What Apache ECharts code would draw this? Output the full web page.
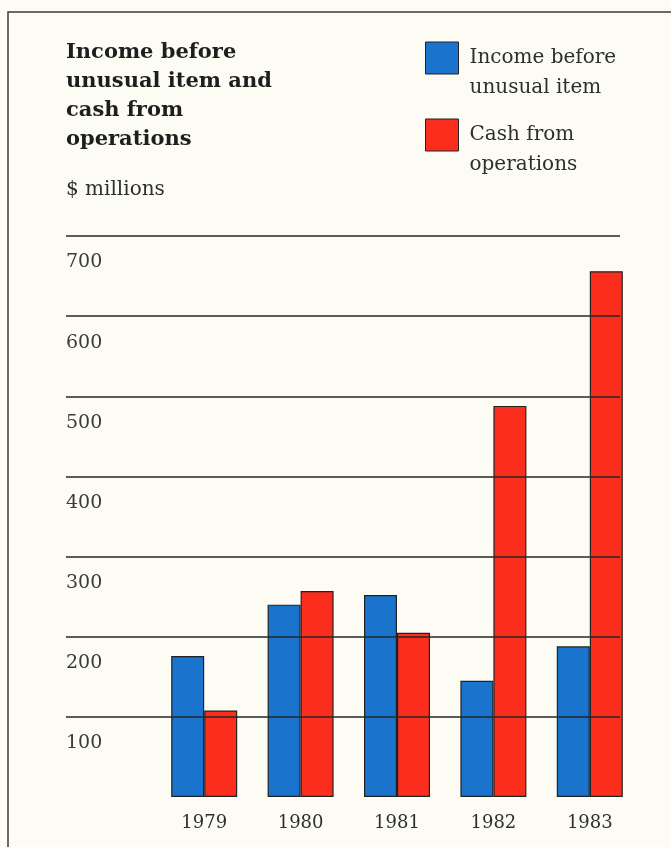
<!DOCTYPE html>
<html>
<head>
<meta charset="utf-8">
<style>
  html, body { margin: 0; padding: 0; background: #fdfcf4; }
  #chart { width: 671px; height: 847px; }
</style>
<script src="https://cdn.jsdelivr.net/npm/echarts@6/dist/echarts.min.js"></script>
</head>
<body>
<div id="chart"></div>
<script>
// Annual figures, $ millions
const years = ['1979', '1980', '1981', '1982', '1983'];
const incomeBeforeUnusual = [176, 240, 252, 145, 188];
const cashFromOperations = [108, 257, 205, 488, 656];
const yTicks = [100, 200, 300, 400, 500, 600, 700];

const seriesNames = ['Income before unusual item', 'Cash from operations'];
// leading blank line keeps the first text line level with the swatch
const legendText = {
  'Income before unusual item': '\nIncome before\nunusual item',
  'Cash from operations': '\nCash from\noperations'
};

const serif = '"DejaVu Serif", "Liberation Serif", serif';
const ink = '#2e2e2e';
const blue = '#1a73cc';
const red = '#fb2e1e';

const chart = echarts.init(document.getElementById('chart'), null, { renderer: 'canvas' });

const legendBase = {
  orient: 'vertical',
  left: 420,
  itemWidth: 33,
  itemHeight: 32,
  icon: 'rect',
  selectedMode: false,
  formatter: name => legendText[name],
  itemStyle: { borderColor: '#222', borderWidth: 1 },
  textStyle: {
    fontFamily: serif, fontSize: 20, color: ink,
    lineHeight: 30, padding: [6, 0, 0, 6]
  }
};

chart.setOption({
  backgroundColor: '#fdfcf4',
  animation: false,
  title: [{
    text: 'Income before\nunusual item and\ncash from\noperations',
    left: 61, top: 33,
    textStyle: { fontFamily: serif, fontSize: 21, fontWeight: 'bold', color: '#1e1e1e', lineHeight: 29 }
  }, {
    text: '$ millions',
    left: 61, top: 175,
    textStyle: { fontFamily: serif, fontSize: 20, fontWeight: 'normal', color: ink }
  }],
  legend: [
    Object.assign({}, legendBase, { top: 5, data: [seriesNames[0]] }),
    Object.assign({}, legendBase, { top: 82, data: [seriesNames[1]] })
  ],
  grid: [
    // bars
    { left: 156, right: 33, top: 236, bottom: 50 },
    // horizontal rules and their labels
    { left: 66, right: 51, top: 236, bottom: 50 }
  ],
  xAxis: [{
    gridIndex: 0,
    type: 'category',
    data: years,
    axisLine: { show: false },
    axisTick: { show: false },
    axisLabel: { fontFamily: serif, fontSize: 18, color: ink, margin: 17 }
  }, {
    gridIndex: 1,
    type: 'value', min: 0, max: 1, show: false
  }],
  yAxis: [{
    gridIndex: 0,
    type: 'value', min: 0, max: 700, interval: 100,
    show: false
  }, {
    gridIndex: 1,
    type: 'value', min: 0, max: 700, interval: 100,
    z: 5,
    axisLine: { show: false },
    axisTick: { show: false },
    splitLine: { show: true, showMinLine: false, lineStyle: { color: '#262626', width: 1.5 } },
    axisLabel: {
      showMinLabel: false,
      align: 'left', verticalAlign: 'top', margin: 0,
      padding: [17, 0, 0, 0],
      fontFamily: serif, fontSize: 19, color: '#3a3a3a',
      formatter: v => (yTicks.includes(v) ? String(v) : '')
    }
  }],
  series: [{
    name: seriesNames[0],
    type: 'bar',
    xAxisIndex: 0, yAxisIndex: 0,
    data: incomeBeforeUnusual,
    barWidth: 33,
    barGap: '0%',
    itemStyle: { color: blue, borderColor: '#222', borderWidth: 1.2 }
  }, {
    name: seriesNames[1],
    type: 'bar',
    xAxisIndex: 0, yAxisIndex: 0,
    data: cashFromOperations,
    barWidth: 33,
    barGap: '0%',
    itemStyle: { color: red, borderColor: '#222', borderWidth: 1.2 }
  }],
  graphic: [{
    type: 'polyline',
    shape: { points: [[8, 847], [8, 12], [671, 12]] },
    style: { stroke: '#3a3a3a', lineWidth: 1.5, fill: null },
    silent: true
  }]
});
</script>
</body>
</html>
